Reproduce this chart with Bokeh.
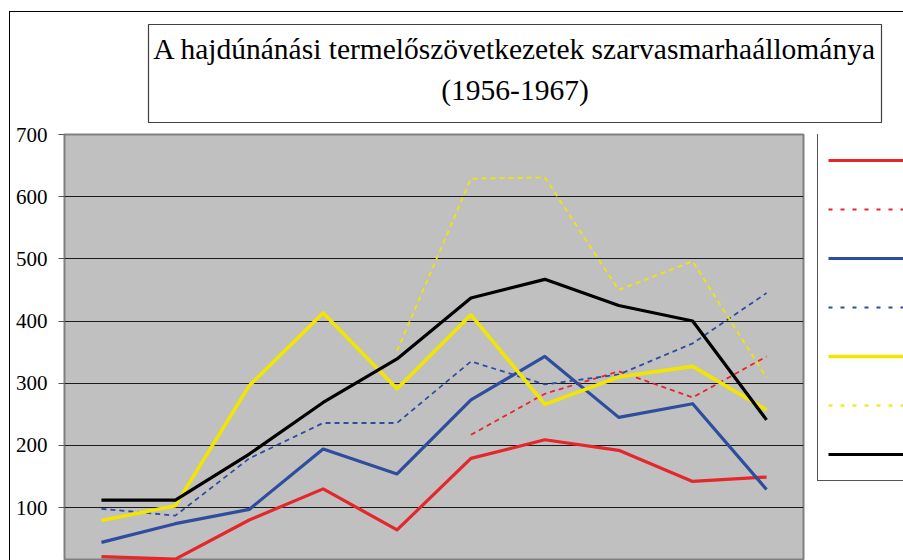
from bokeh.plotting import figure
from bokeh.layouts import column, row
from bokeh.core.properties import value
from bokeh.models import (FactorRange, Range1d, FixedTicker, Label, Legend,
                          LegendItem, Spacer)
from bokeh.embed import file_html
from bokeh.resources import INLINE

nan = float("nan")

# ---- data ----
years = ["1956", "1957", "1958", "1959", "1960", "1961", "1962", "1963", "1964", "1967"]
red_solid = [21, 17, 80, 130, 64, 179, 209, 192, 142, 149]
red_dashed = [nan, nan, nan, nan, nan, 217, 283, 319, 277, 343]
blue_solid = [44, 74, 97, 194, 154, 273, 343, 245, 267, 129]
blue_dashed = [98, 87, 179, 236, 236, 335, 298, 314, 364, 445]
yellow_solid = [79, 103, 296, 413, 291, 410, 266, 310, 327, 257]
yellow_dashed = [nan, nan, nan, nan, 352, 629, 631, 450, 496, 309]
black_solid = [112, 112, 186, 269, 339, 437, 467, 425, 400, 241]
y_ticks = [100, 200, 300, 400, 500, 600, 700]
title_text = "A hajdúnánási termelőszövetkezetek szarvasmarhaállománya\n(1956-1967)"

RED = "#E5262A"
BLUE = "#2F4D9E"
YELLOW = "#F2E600"
BLACK = "#000000"
DASH = "5 4"
SERIF = "Liberation Serif"

specs = [
    (red_solid, RED, 3.2, "solid"),
    (red_dashed, RED, 1.8, DASH),
    (blue_solid, BLUE, 3.2, "solid"),
    (blue_dashed, BLUE, 1.8, DASH),
    (yellow_solid, YELLOW, 3.6, "solid"),
    (yellow_dashed, YELLOW, 1.8, DASH),
    (black_solid, BLACK, 3.2, "solid"),
]

# ---- title box ----
tf = figure(width=893, height=112, output_backend="svg", toolbar_location=None,
            x_range=Range1d(0, 1), y_range=Range1d(0, 1),
            x_axis_location=None, y_axis_location=None,
            min_border_left=138, min_border_right=22, min_border_top=12,
            min_border_bottom=2, margin=0)
tf.grid.visible = False
tf.background_fill_color = "white"
tf.outline_line_color = "#404040"
tf.outline_line_width = 1.2
tf.add_layout(Label(x=366.5, y=53, x_units="screen", y_units="screen",
                    text=title_text, text_align="center", text_baseline="middle",
                    text_font=SERIF, text_font_size="29.5px",
                    text_line_height=1.28, text_color="black"))

# ---- main chart ----
p = figure(width=806, height=436, output_backend="svg", toolbar_location=None,
           x_range=FactorRange(*years), y_range=Range1d(14.8, 700),
           x_axis_location=None,
           min_border_left=54, min_border_right=13, min_border_top=10,
           min_border_bottom=0, margin=0)
p.background_fill_color = "#C0C0C0"
p.border_fill_color = "white"
p.outline_line_color = "#808080"
p.outline_line_width = 2

p.xgrid.visible = False
p.ygrid.ticker = FixedTicker(ticks=y_ticks)
p.ygrid.grid_line_color = "#1a1a1a"
p.ygrid.grid_line_width = 1

ya = p.yaxis[0]
ya.ticker = FixedTicker(ticks=y_ticks)
ya.axis_line_color = None
ya.major_tick_in = 0
ya.major_tick_out = 6
ya.major_tick_line_color = "#555555"
ya.minor_tick_line_color = None
ya.major_label_standoff = 11
ya.major_label_text_font = SERIF
ya.major_label_text_font_size = "21px"
ya.major_label_text_color = "black"

for vals, col, lw, dash in specs:
    p.line(x=years, y=vals, line_color=col, line_width=lw, line_dash=dash,
           line_join="round")

# ---- legend panel (its labels lie beyond the right edge, as in the original) ----
lf = figure(width=87, height=436, output_backend="svg", toolbar_location=None,
            x_range=Range1d(0, 1), y_range=Range1d(0, 1),
            x_axis_location=None, y_axis_location=None, min_border=0, margin=0)
lf.grid.visible = False
lf.outline_line_color = None
lf.background_fill_color = "white"
items = []
for vals, col, lw, dash in specs:
    # legend proxy: same style, one empty (NaN) point so nothing is drawn in the panel
    leg_dash = "solid" if dash == "solid" else "4 8"
    r = lf.line(x=[nan], y=[nan], line_color=col, line_width=lw, line_dash=leg_dash)
    items.append(LegendItem(label=value(""), renderers=[r]))
legend = Legend(items=items, location=(1, 79), orientation="vertical",
                glyph_width=95, glyph_height=32, label_height=32, spacing=17,
                padding=10, margin=0, border_line_color="#555555",
                border_line_width=1.5, border_line_alpha=1,
                background_fill_color="white", background_fill_alpha=1,
                label_text_font=SERIF, label_text_font_size="16px",
                label_standoff=8)
lf.add_layout(legend)

inner = column(tf, row(p, lf, spacing=0, margin=0), spacing=0, margin=0,
               styles={"border-top": "1px solid black",
                       "border-left": "1px solid black"})
layout = row(Spacer(width=9, height=560, margin=0),
             column(Spacer(width=894, height=11, margin=0), inner,
                    spacing=0, margin=0),
             spacing=0, margin=0)

open("out.html", "w").write(file_html(layout, INLINE))
